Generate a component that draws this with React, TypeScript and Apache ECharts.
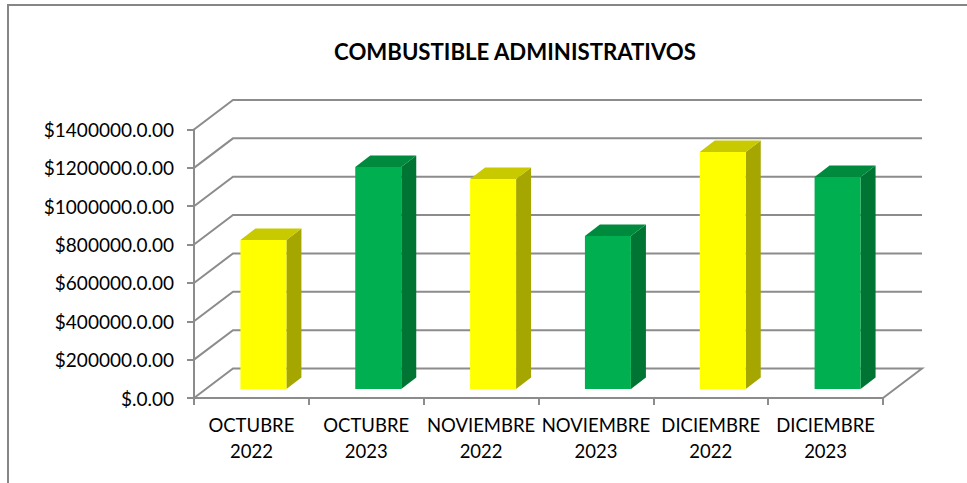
import React, { useEffect, useRef } from "react";
import * as echarts from "echarts";

const TITLE = "COMBUSTIBLE ADMINISTRATIVOS";
const categories = [
  "OCTUBRE\n2022",
  "OCTUBRE\n2023",
  "NOVIEMBRE\n2022",
  "NOVIEMBRE\n2023",
  "DICIEMBRE\n2022",
  "DICIEMBRE\n2023",
];
const values = [777000, 1158000, 1095000, 798000, 1236000, 1105000];
const seriesKinds = [0, 1, 0, 1, 0, 1];
const yTicks = [0, 200000, 400000, 600000, 800000, 1000000, 1200000, 1400000];

const faceColors = [
  { front: "#FFFF00", top: "#C9C900", side: "#A6A600" },
  { front: "#00B050", top: "#008A3E", side: "#007533" },
];
const GRID = "#8C8C8C";
const WALL_DX = 39;
const WALL_DY = -29.5;
const BAR_W = 46;
const BAR_OFF_DX = 12;
const BAR_OFF_DY = -9;
const BAR_DX = 15;
const BAR_DY = -11.5;

const poly = (points: number[][], fill: string) => ({
  type: "polygon",
  shape: { points },
  style: { fill, stroke: "none" },
});

export default function App() {
  const ref = useRef<HTMLDivElement>(null);
  useEffect(() => {
    document.body.style.margin = "0";
    const chart = echarts.init(ref.current!, undefined, { renderer: "svg" });
    chart.setOption({
      animation: false,
      backgroundColor: "#FFFFFF",
      title: {
        text: TITLE,
        left: 510,
        top: 35,
        textAlign: "center",
        textStyle: {
          fontFamily: "Lato",
          fontSize: 22.2,
          fontWeight: "bold",
          color: "#000000",
        },
      },
      graphic: [
        {
          type: "polyline",
          silent: true,
          shape: { points: [[8, 483], [8, 5], [967, 5]] },
          style: { stroke: "#868686", lineWidth: 2, fill: "none" },
        },
      ],
      grid: { left: 194, right: 84, top: 129.5, bottom: 85 },
      xAxis: {
        type: "category",
        data: categories,
        boundaryGap: true,
        axisLine: { show: true, lineStyle: { color: GRID, width: 2 } },
        axisTick: { show: true, length: 7, lineStyle: { color: GRID, width: 2 }, alignWithLabel: false },
        axisLabel: {
          interval: 0,
          margin: 14,
          color: "#000000",
          fontFamily: "Lato",
          fontSize: 18.5,
          lineHeight: 26,
        },
      },
      yAxis: {
        type: "value",
        min: 0,
        max: 1400000,
        interval: 200000,
        splitLine: { show: false },
        axisLine: { show: true, lineStyle: { color: GRID, width: 2 } },
        axisTick: { show: true, length: 7, lineStyle: { color: GRID, width: 2 } },
        axisLabel: {
          margin: 20,
          color: "#000000",
          fontFamily: "Lato",
          fontSize: 19,
          formatter: (v: number) => `$${v === 0 ? "" : v}.0.00`,
        },
      },
      series: [
        {
          type: "custom",
          silent: true,
          z: 1,
          coordinateSystem: "cartesian2d",
          data: yTicks.map((t) => [0, t]),
          encode: { x: 0, y: 1 },
          renderItem: (params: any, api: any) => {
            const y = api.coord([0, api.value(1)])[1];
            const area = params.coordSys;
            const x0 = area.x;
            const x1 = area.x + area.width;
            const pts = [
              [x0, y],
              [x0 + WALL_DX, y + WALL_DY],
              [x1 + WALL_DX, y + WALL_DY],
            ];
            if (api.value(1) === 0) pts.push([x1, y]);
            return {
              type: "polyline",
              shape: { points: pts },
              style: { stroke: GRID, lineWidth: 2, fill: "none" },
            };
          },
        },
        {
          type: "custom",
          silent: true,
          z: 3,
          coordinateSystem: "cartesian2d",
          data: values.map((v, i) => [i, v, seriesKinds[i]]),
          encode: { x: 0, y: 1 },
          renderItem: (_: any, api: any) => {
            const top = api.coord([api.value(0), api.value(1)]);
            const base = api.coord([api.value(0), 0]);
            const c = faceColors[api.value(2)];
            const l = base[0] - BAR_W / 2 + BAR_OFF_DX;
            const r = l + BAR_W;
            const b = base[1] + BAR_OFF_DY;
            const t = top[1] + BAR_OFF_DY;
            return {
              type: "group",
              children: [
                poly([[r, t], [r + BAR_DX, t + BAR_DY], [r + BAR_DX, b + BAR_DY], [r, b]], c.side),
                poly([[l, t], [l + BAR_DX, t + BAR_DY], [r + BAR_DX, t + BAR_DY], [r, t]], c.top),
                poly([[l, t], [r, t], [r, b], [l, b]], c.front),
              ],
            };
          },
        },
      ],
    });
    return () => chart.dispose();
  }, []);
  return <div ref={ref} style={{ width: 967, height: 483 }} />;
}
